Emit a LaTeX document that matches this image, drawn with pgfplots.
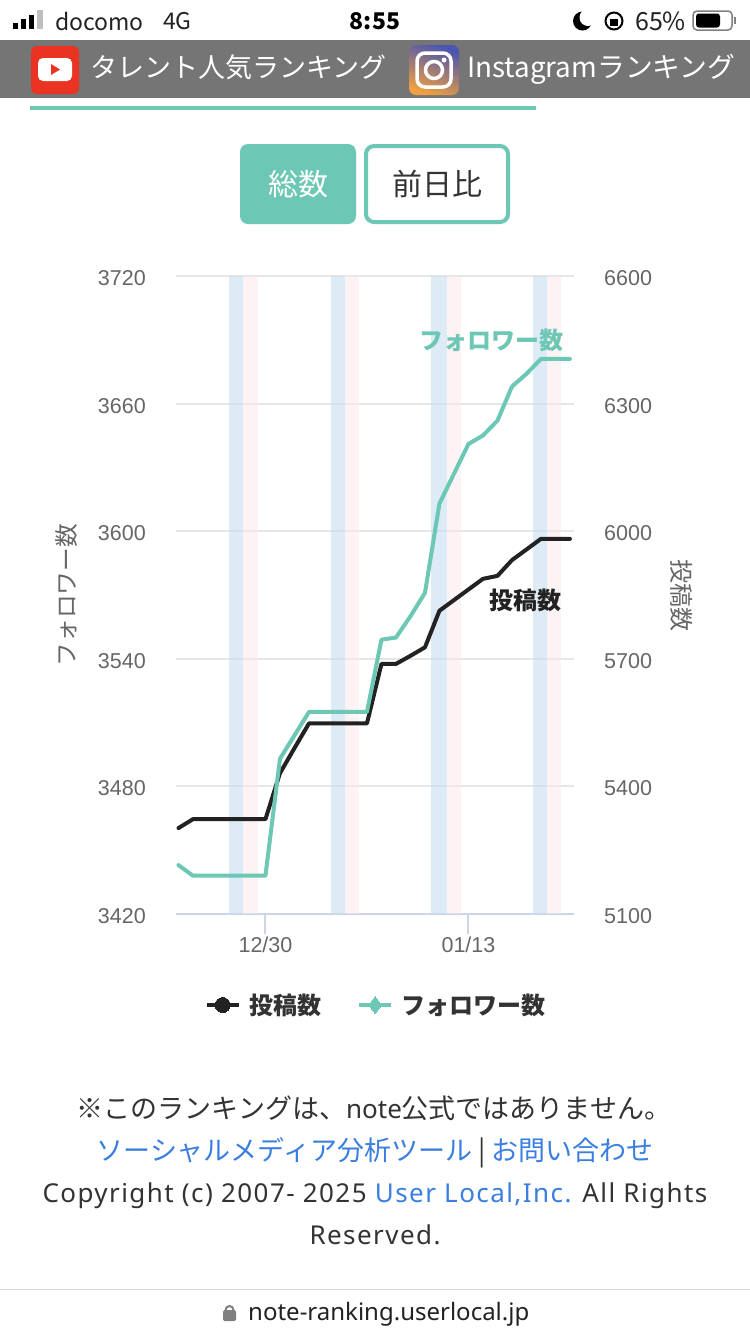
\documentclass[border=0pt]{standalone}
\usepackage{fontspec}
\usepackage{pgfplots}
\pgfplotsset{compat=1.18}
\setmainfont{Liberation Sans}
\newfontfamily\cjk{Noto Sans CJK JP}
\newfontfamily\noto{Noto Sans}
\newfontfamily\notoL[LetterSpace=5.5]{Noto Sans}
\newcommand\fs[1]{\fontsize{#1}{#1}\selectfont}
\definecolor{mint}{HTML}{6CC7B4}
\definecolor{ink}{HTML}{222222}
\definecolor{txt}{HTML}{333333}
\definecolor{lnk}{HTML}{3A7FE0}
\definecolor{lab}{HTML}{666666}
\definecolor{gridc}{HTML}{E6E6E6}
\definecolor{axc}{HTML}{CCD6EB}
\definecolor{bandb}{HTML}{C6DFF0}
\definecolor{bandp}{HTML}{FCE6EA}
\definecolor{ytred}{HTML}{EA3323}
\definecolor{igtop}{HTML}{4A55B0}
\definecolor{igmid}{HTML}{C0398A}
\definecolor{igbot}{HTML}{F0A040}
\pgfplotsset{
  base/.style={
    scale only axis, width=398pt, height=638pt,
    at={(176pt,-914pt)}, anchor=south west,
    xmin=-0.17, xmax=27.28,
    clip=false,
    tick style={draw=none},
    /pgf/number format/assume math mode=true,
    /pgf/number format/1000 sep={},
    tick label style={font=\fs{21.5}, text=lab},
    y axis line style={draw=none},
  },
  bandb/.style={fill=bandb, fill opacity=.6, draw=none, forget plot},
  bandp/.style={fill=bandp, fill opacity=.5, draw=none, forget plot},
}
\begin{document}
\begin{tikzpicture}[x=1pt,y=-1pt]
\path[use as bounding box, fill=white] (0,0) rectangle (750,1334);
% status bar
\fill[black] (13,23) rectangle (18,29);
\fill[black] (21,19) rectangle (26,29);
\fill[black] (29,15) rectangle (34,29);
\fill[black!25] (37,10) rectangle (43,29);
\node[anchor=west, inner sep=0pt, text=ink] at (55,21) {\cjk\fs{23}docomo};
\node[anchor=west, inner sep=0pt, text=ink] at (163,21) {\cjk\fs{23}4G};
\node[inner sep=0pt, text=black] at (375,21) {\cjk\fs{23}\bfseries 8:55};
\fill[black] (582.5,21) circle[radius=9.5];
\fill[white] (588,17.5) circle[radius=8.5];
\draw[black, line width=2] (614,21) circle[radius=8.5];
\fill[black] (610,19) rectangle (618,26);
\node[anchor=west, inner sep=0pt, text=ink] at (635,21) {\cjk\fs{25}65\%};
\draw[black!50, line width=1.5, rounded corners=4] (693,11) rectangle (732,30);
\fill[black, rounded corners=3] (696,13.5) rectangle (720,27.5);
\fill[black!50] (734,17) rectangle (736,24);
% header
\fill[black!54] (0,40) rectangle (750,98);
\fill[ytred, rounded corners=6] (31,46) rectangle (79,94);
\fill[white, rounded corners=5] (38,58) rectangle (72,81);
\fill[ytred] (51,64) -- (60,69.5) -- (51,75) -- cycle;
\node[anchor=base west, inner sep=0pt, text=white] at (90,77) {\cjk\fs{27}タレント人気ランキング};
\shade[rounded corners=7, top color=igtop, middle color=igmid, bottom color=igbot, shading angle=-20] (409,45) rectangle (459,95);
\draw[white, line width=3.5, rounded corners=8] (417,53) rectangle (451,87);
\draw[white, line width=3.5] (434,70) circle[radius=8.5];
\fill[white] (444,60) circle[radius=2.5];
\node[anchor=base west, inner sep=0pt, text=white] at (467,77) {\cjk\fs{27.8}Instagramランキング};
\fill[mint] (30,106) rectangle (536,110);
% buttons
\fill[mint, rounded corners=8] (240,144) rectangle (356,224);
\node[inner sep=0pt, text=white] at (298,184) {\cjk\fs{30}総数};
\draw[mint, line width=4, rounded corners=8] (366,146) rectangle (508,222);
\node[inner sep=0pt, text=txt] at (437,184) {\cjk\fs{30}前日比};

% right-hand axis: posts
\begin{axis}[base,
  axis y line*=right, axis x line*=bottom,
  ymin=5100, ymax=6600, ytick={5100,5400,5700,6000,6300,6600},
  xtick={6,20}, xticklabels={12/30,01/13},
  x axis line style={draw=axc, line width=2pt, -},
  xtick style={draw=axc, line width=2pt},
  tick align=outside,
  major tick length=20pt,
  ytick style={draw=none},
  ymajorgrids, grid style={draw=gridc, line width=2pt},
  yticklabel style={inner sep=0pt, xshift=10pt, yshift=-2pt, anchor=west},
  xticklabel style={inner sep=0pt, yshift=-3pt},
  ylabel={\cjk 投稿数},
  ylabel style={font=\fs{24}, text=lab, rotate=180, at={(axis description cs:1.2693,0.5)}, anchor=center},
]
\addplot[bandb] coordinates {(3.50,5100)(4.42,5100)(4.42,6600)(3.50,6600)} --cycle;
\addplot[bandp] coordinates {(4.42,5100)(5.50,5100)(5.50,6600)(4.42,6600)} --cycle;
\addplot[bandb] coordinates {(10.52,5100)(11.48,5100)(11.48,6600)(10.52,6600)} --cycle;
\addplot[bandp] coordinates {(11.48,5100)(12.45,5100)(12.45,6600)(11.48,6600)} --cycle;
\addplot[bandb] coordinates {(17.43,5100)(18.50,5100)(18.50,6600)(17.43,6600)} --cycle;
\addplot[bandp] coordinates {(18.50,5100)(19.48,5100)(19.48,6600)(18.50,6600)} --cycle;
\addplot[bandb] coordinates {(24.47,5100)(25.40,5100)(25.40,6600)(24.47,6600)} --cycle;
\addplot[bandp] coordinates {(25.40,5100)(26.38,5100)(26.38,6600)(25.40,6600)} --cycle;
\addplot[ink, line width=4pt, line join=round, line cap=round, forget plot] table {
0 5302
1 5323
2 5323
3 5323
4 5323
5 5323
6 5323
7 5431
8 5490
9 5548
10 5548
11 5548
12 5548
13 5548
14 5688
15 5688
16 5707
17 5727
18 5813
19 5838
20 5863
21 5888
22 5895
23 5932
24 5957
25 5982
26 5982
27 5982
};
\end{axis}

% left-hand axis: followers
\begin{axis}[base,
  axis y line*=left, axis x line=none,
  ymin=3420, ymax=3720, ytick={3420,3480,3540,3600,3660,3720},
  major tick length=0pt,
  yticklabel style={inner sep=0pt, xshift=-30pt, yshift=-2pt, anchor=east},
  ylabel={\cjk フォロワー数},
  ylabel style={font=\fs{23.7}, text=lab, at={(axis description cs:-0.2739,0.5)}, anchor=center},
  legend columns=2,
  legend cell align=left,
  legend style={
    at={(axis description cs:0.5035,-0.1426)}, anchor=center,
    draw=none, fill=none, inner sep=0pt, outer sep=0pt,
    font=\cjk\fs{24}\bfseries, text=txt,
    /tikz/every even column/.style={column sep=34pt},
  },
  legend image code/.code={
    \draw[#1] (0pt,0pt) -- (32pt,0pt);
    \path[#1, mark repeat=1] plot coordinates {(16pt,0pt)};
  },
]
\addplot[mint, line width=4pt, line join=round, line cap=round, forget plot] table {
0 3443
1 3438
2 3438
3 3438
4 3438
5 3438
6 3438
7 3493
8 3504
9 3515
10 3515
11 3515
12 3515
13 3515
14 3549
15 3550
16 3560
17 3571
18 3613
19 3627
20 3641
21 3645
22 3652
23 3668
24 3674
25 3681
26 3681
27 3681
};
\addlegendimage{ink, line width=3.5pt, mark=*, mark size=7.5pt, mark options={fill=ink, draw=ink, line width=0pt}}
\addlegendentry{\hspace{7pt}投稿数}
\addlegendimage{mint, line width=3.5pt, mark=diamond*, mark size=8.5pt, mark options={fill=mint, draw=mint, line width=0pt}}
\addlegendentry{\hspace{7pt}フォロワー数}
\end{axis}

% series labels
\node[anchor=east, inner sep=0pt, text=mint] at (564,340) {\cjk\fs{24}\bfseries フォロワー数};
\node[anchor=east, inner sep=0pt, text=ink] at (562,600) {\cjk\fs{24}\bfseries 投稿数};

% footer
\node[anchor=base, inner sep=0pt, text=txt] at (374,1118) {\cjk\fs{27}※このランキングは、{\noto\fs{26}note}公式ではありません。};
\node[anchor=base, inner sep=0pt, text=lnk] at (375,1160) {\cjk\fs{27}ソーシャルメディア分析ツール {\color{txt}|} お問い合わせ};
\node[anchor=base, inner sep=0pt, text=txt] at (375,1202) {\notoL\fs{26}Copyright (c) 2007- 2025 {\color{lnk}User Local,Inc.} All Rights};
\node[anchor=base, inner sep=0pt, text=txt] at (375,1244) {\notoL\fs{26}Reserved.};
\draw[black!15, line width=1.5] (0,1289.5) -- (750,1289.5);
\fill[black!50, rounded corners=1.5] (223,1310) rectangle (236,1321);
\draw[black!50, line width=2] (225.5,1310) arc[start angle=-180,end angle=0,radius=4];
\node[anchor=base west, inner sep=0pt, text=ink] at (248,1320) {\noto\fs{24}note-ranking.userlocal.jp};
\end{tikzpicture}
\end{document}
